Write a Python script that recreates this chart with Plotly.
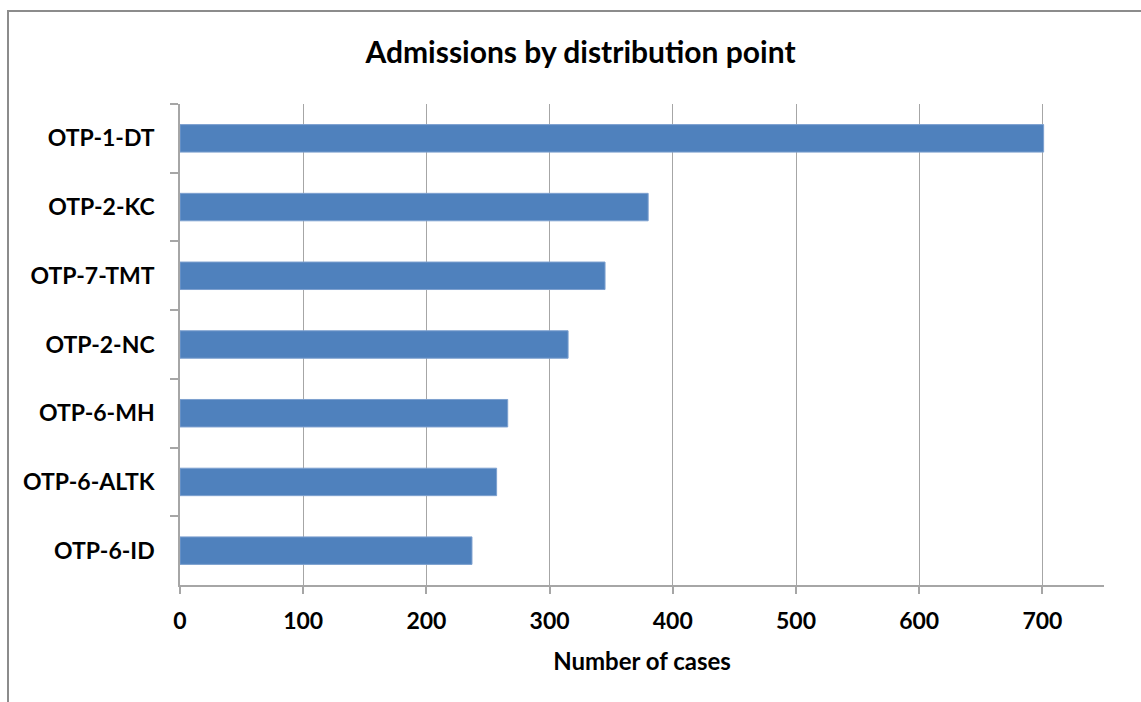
import plotly.graph_objects as go

categories = ["OTP-1-DT", "OTP-2-KC", "OTP-7-TMT", "OTP-2-NC", "OTP-6-MH", "OTP-6-ALTK", "OTP-6-ID"]
cases = [701, 380, 345, 315, 266, 257, 237]
x_ticks = [0, 100, 200, 300, 400, 500, 600, 700]

FONT = "Lato"
GRID = "#a6a6a6"

fig = go.Figure(go.Bar(
    x=cases, y=categories, orientation="h",
    marker=dict(color="#4f81bd", line=dict(color="#7da0cf", width=1)),
    width=0.4,
))

W, H = 1141, 702
ml, mr, mt, mb = 180, 37, 104, 117
pw, ph = W - ml - mr, H - mt - mb

fig.update_layout(
    width=W, height=H,
    margin=dict(l=ml, r=mr, t=mt, b=mb, autoexpand=False),
    paper_bgcolor="white", plot_bgcolor="white",
    showlegend=False,
    title=dict(text="<b>Admissions by distribution point</b>",
               font=dict(family=FONT, size=30, color="black"),
               x=580.5 / W, xref="container", xanchor="center",
               y=1 - 52 / H, yref="container", yanchor="middle"),
    xaxis=dict(range=[0, 750], tickvals=x_ticks, showgrid=True, gridcolor=GRID, gridwidth=1,
               showline=True, linecolor=GRID, linewidth=1.5,
               ticks="outside", ticklen=7, tickcolor=GRID, tickwidth=1.5,
               tickfont=dict(family=FONT, size=23, color="black", weight="bold"),
               ticklabelstandoff=8,
               zeroline=False,
               title=dict(text="<b>Number of cases</b>", font=dict(family=FONT, size=24, color="black"),
                          standoff=20)),
    yaxis=dict(autorange="reversed", showgrid=False,
               showline=True, linecolor=GRID, linewidth=1.5,
               ticks="outside", ticklen=8, tickcolor=GRID, tickwidth=1.5, tickson="boundaries",
               tickfont=dict(family=FONT, size=23, color="black", weight="bold"),
               ticklabelstandoff=19),
    shapes=[dict(type="rect", xref="paper", yref="paper",
                 x0=(8 - ml) / pw, x1=1.2, y0=-0.5, y1=1 + (mt - 11) / ph,
                 line=dict(color="#8c8c8c", width=2), layer="below")],
)

fig.write_html("out.html")
